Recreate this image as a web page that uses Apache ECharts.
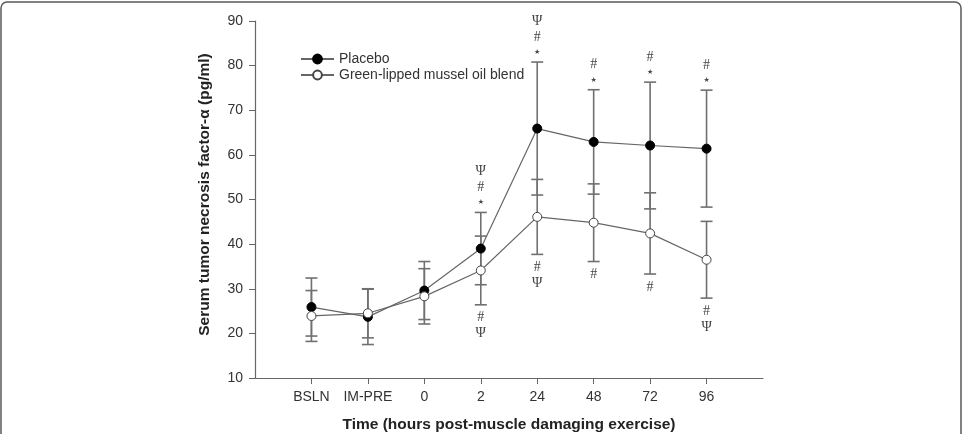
<!DOCTYPE html>
<html>
<head>
<meta charset="utf-8">
<script src="https://cdn.jsdelivr.net/npm/echarts@6/dist/echarts.min.js"></script>
<style>
html,body{margin:0;padding:0;background:#fff;}
#chart{width:963px;height:434px;}
</style>
</head>
<body>
<div id="chart"></div>
<script>
const categories = ['BSLN', 'IM-PRE', '0', '2', '24', '48', '72', '96'];
const placeboMean = [25.9, 23.7, 29.6, 39.0, 65.9, 62.9, 62.1, 61.4];
const placeboSD   = [6.5, 6.2, 6.5, 8.1, 14.9, 11.7, 14.2, 13.1];
const musselMean  = [23.9, 24.5, 28.3, 34.1, 46.1, 44.8, 42.4, 36.5];
const musselSD    = [5.7, 5.5, 6.2, 7.7, 8.4, 8.7, 9.1, 8.6];
// significance marks, listed outward from the error-bar cap
const placeboMarks = [[], [], [], ['★', '#', 'Ψ'], ['★', '#', 'Ψ'], ['★', '#'], ['★', '#'], ['★', '#']];
const musselMarks  = [[], [], [], ['#', 'Ψ'], ['#', 'Ψ'], ['#'], ['#'], ['#', 'Ψ']];
const yMin = 10, yMax = 90, yStep = 10;

const axisCats = [' '].concat(categories, ['  ']);
const chart = echarts.init(document.getElementById('chart'));

function errData(means, sds) {
  return categories.map((c, i) => [c, means[i], sds[i]]);
}
function errRender(params, api) {
  const x = api.value(0), m = api.value(1), s = api.value(2);
  const top = api.coord([x, m + s]);
  const bot = api.coord([x, m - s]);
  const hw = 6;
  const st = { stroke: '#707070', lineWidth: 1.6 };
  return {
    type: 'group',
    children: [
      { type: 'line', shape: { x1: top[0], y1: top[1], x2: bot[0], y2: bot[1] }, style: st },
      { type: 'line', shape: { x1: top[0] - hw, y1: top[1], x2: top[0] + hw, y2: top[1] }, style: st },
      { type: 'line', shape: { x1: bot[0] - hw, y1: bot[1], x2: bot[0] + hw, y2: bot[1] }, style: st }
    ]
  };
}
function markRender(marks, dir) {
  return function (params, api) {
    const x = api.value(0), m = api.value(1), s = api.value(2);
    const p = api.coord([x, m + dir * s]);
    const list = marks[params.dataIndex];
    const offs = dir > 0 ? [10, 25, 41] : [13, 29, 45];
    const children = list.map((t, k) => ({
      type: 'text',
      x: p[0],
      y: p[1] - dir * offs[k],
      style: {
        text: t,
        fill: '#444',
        font: t === '★' ? '7px "DejaVu Sans"' : '14px "Liberation Serif"',
        align: 'center',
        verticalAlign: 'middle'
      }
    }));
    return { type: 'group', children: children };
  };
}

const option = {
  animation: false,
  backgroundColor: '#fff',
  textStyle: { fontFamily: 'Liberation Sans, Arial, sans-serif' },
  graphic: [{
    type: 'rect',
    shape: { x: 1, y: 2, width: 960, height: 460, r: 6 },
    style: { fill: 'none', stroke: '#5a5a5a', lineWidth: 1.5 },
    silent: true
  }],
  grid: { left: 255, right: 200, top: 21, bottom: 56, outerBoundsMode: 'none', containLabel: false },
  legend: {
    orient: 'vertical',
    left: 295,
    top: 47,
    itemWidth: 33,
    itemHeight: 11,
    itemGap: 2,
    textStyle: { fontSize: 14, color: '#333', fontFamily: 'Liberation Sans' },
    data: ['Placebo', 'Green-lipped mussel oil blend']
  },
  xAxis: {
    type: 'category',
    data: axisCats,
    boundaryGap: false,
    axisLine: { lineStyle: { color: '#666', width: 1.2 } },
    axisTick: { length: 6, interval: (i) => i > 0 && i < axisCats.length - 1, lineStyle: { color: '#666' } },
    axisLabel: { interval: 0, fontSize: 14, color: '#333', margin: 12 },
    name: 'Time (hours post-muscle damaging exercise)',
    nameLocation: 'middle',
    nameGap: 39,
    nameTextStyle: { fontSize: 15.5, fontWeight: 'bold', color: '#222' }
  },
  yAxis: {
    type: 'value',
    min: yMin, max: yMax, interval: yStep,
    splitLine: { show: false },
    axisLine: { show: true, lineStyle: { color: '#666', width: 1.2 } },
    axisTick: { show: true, length: 6, lineStyle: { color: '#666' } },
    axisLabel: { fontSize: 14, color: '#333', margin: 12 },
    name: 'Serum tumor necrosis factor-α (pg/ml)',
    nameLocation: 'middle',
    nameGap: 42,
    nameTextStyle: { fontSize: 15.5, fontWeight: 'bold', color: '#222', padding: [0, 0, 0, 10] }
  },
  series: [
    {
      type: 'custom', name: 'errP', z: 1, renderItem: errRender,
      data: errData(placeboMean, placeboSD), encode: { x: 0, y: 1 }, silent: true
    },
    {
      type: 'custom', name: 'errM', z: 1, renderItem: errRender,
      data: errData(musselMean, musselSD), encode: { x: 0, y: 1 }, silent: true
    },
    {
      type: 'custom', name: 'marksP', z: 1, renderItem: markRender(placeboMarks, 1),
      data: errData(placeboMean, placeboSD), encode: { x: 0, y: 1 }, silent: true
    },
    {
      type: 'custom', name: 'marksM', z: 1, renderItem: markRender(musselMarks, -1),
      data: errData(musselMean, musselSD), encode: { x: 0, y: 1 }, silent: true
    },
    {
      type: 'line', name: 'Placebo', z: 3,
      data: categories.map((c, i) => [c, placeboMean[i]]),
      symbol: 'circle', symbolSize: 9,
      lineStyle: { color: '#666', width: 1.2 },
      itemStyle: { color: '#000', borderColor: '#000', borderWidth: 1 }
    },
    {
      type: 'line', name: 'Green-lipped mussel oil blend', z: 4,
      data: categories.map((c, i) => [c, musselMean[i]]),
      symbol: 'circle', symbolSize: 9,
      lineStyle: { color: '#666', width: 1.2 },
      itemStyle: { color: '#fff', borderColor: '#444', borderWidth: 1 }
    }
  ]
};
chart.setOption(option);
</script>
</body>
</html>
